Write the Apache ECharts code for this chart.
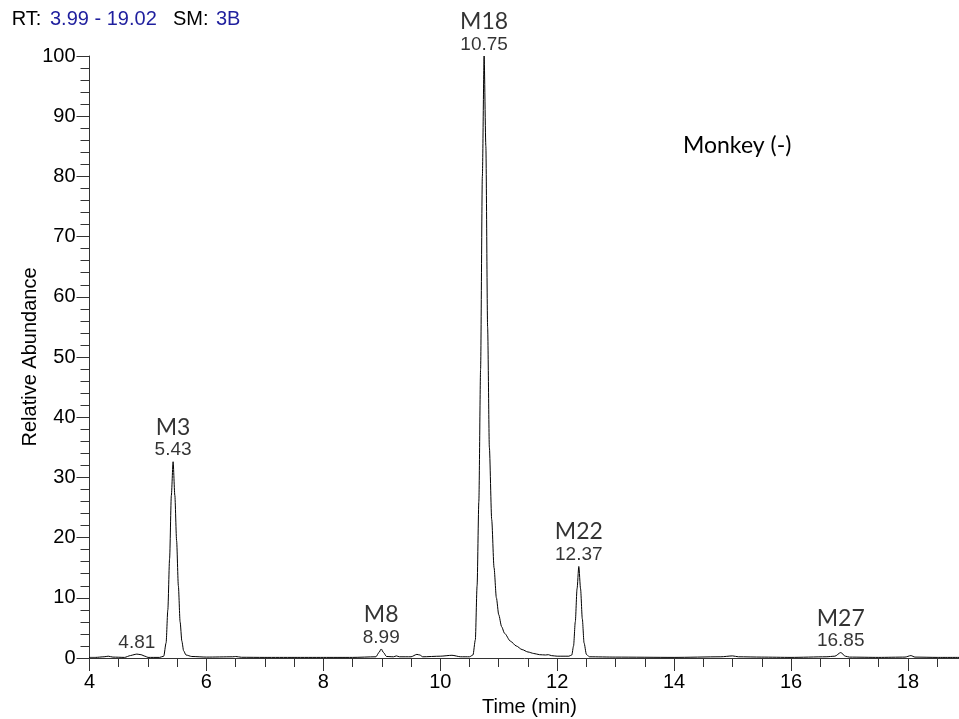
<!DOCTYPE html>
<html>
<head>
<meta charset="utf-8">
<title>Monkey (-) chromatogram</title>
<script src="https://cdn.jsdelivr.net/npm/echarts@6/dist/echarts.min.js"></script>
<style>
  html, body { margin: 0; padding: 0; background: #fff; }
  #chart { width: 959px; height: 719px; }
</style>
</head>
<body>
<div id="chart"></div>
<script>
// Extracted ion chromatogram trace: retention time (min) and relative abundance (%)
var traceTime = [
  3.99, 4.10, 4.25, 4.32, 4.40, 4.60, 4.70, 4.78, 4.81, 4.88, 4.95, 5.00,
  5.20, 5.27, 5.31, 5.34, 5.37, 5.40, 5.43, 5.46, 5.49, 5.52, 5.55, 5.58,
  5.61, 5.65, 5.75, 6.00, 6.45, 6.50, 6.60, 7.00, 7.50, 8.00, 8.50, 8.90,
  8.95, 8.99, 9.03, 9.08, 9.20, 9.25, 9.30, 9.50, 9.60, 9.65, 9.70, 10.00,
  10.20, 10.35, 10.50, 10.56, 10.60, 10.63, 10.66, 10.69, 10.72, 10.75, 10.78, 10.81,
  10.84, 10.88, 10.92, 10.96, 11.00, 11.05, 11.10, 11.20, 11.30, 11.40, 11.50, 11.60,
  11.70, 11.80, 11.85, 11.90, 12.00, 12.10, 12.20, 12.25, 12.28, 12.31, 12.34, 12.37,
  12.40, 12.43, 12.46, 12.50, 12.55, 13.00, 14.00, 14.80, 15.00, 15.10, 15.50, 16.00,
  16.60, 16.75, 16.85, 16.93, 17.00, 17.50, 17.95, 18.05, 18.12, 18.50, 19.02
];
var traceAbund = [
  0.1, 0.1, 0.2, 0.3, 0.15, 0.1, 0.4, 0.6, 0.65, 0.55, 0.3, 0.1,
  0.1, 0.3, 2.5, 8.0, 16.5, 27.0, 32.6, 27.0, 19.5, 12.0, 6.0, 2.8,
  1.2, 0.5, 0.25, 0.15, 0.2, 0.25, 0.12, 0.1, 0.1, 0.1, 0.1, 0.2,
  0.9, 1.5, 0.9, 0.25, 0.2, 0.35, 0.2, 0.2, 0.6, 0.5, 0.2, 0.3,
  0.45, 0.2, 0.2, 0.5, 3.0, 12.0, 26.0, 48.0, 80.0, 100.0, 85.0, 55.0,
  35.0, 23.0, 15.0, 10.0, 7.2, 5.2, 4.1, 2.8, 2.0, 1.4, 1.0, 0.75,
  0.55, 0.5, 0.55, 0.4, 0.3, 0.3, 0.3, 0.5, 2.0, 6.0, 11.5, 15.2,
  11.5, 6.5, 2.5, 0.6, 0.2, 0.15, 0.1, 0.2, 0.35, 0.2, 0.15, 0.1,
  0.2, 0.3, 0.9, 0.3, 0.15, 0.1, 0.15, 0.4, 0.15, 0.1, 0.1
];

// Annotated peaks: apex retention time and metabolite name
var peakTimes = [4.81, 5.43, 8.99, 10.75, 12.37, 16.85];
var peakNames = ['', 'M3', 'M8', 'M18', 'M22', 'M27'];

// Axis tick settings (the time axis runs on past the right edge of the canvas)
var xTicks = { min: 4, max: 20, interval: 2, minorSplit: 4 };
var yTicks = { min: 0, max: 100, interval: 10, minorSplit: 5 };

var tracePoints = traceTime.map(function (t, i) { return [t, traceAbund[i]]; });
var peakPoints = peakTimes.map(function (t, i) {
  var h = traceAbund[traceTime.indexOf(t)];
  return { value: [t, h], name: peakNames[i] };
});

var axisColor = '#333';
var sansFont = 'Liberation Sans, Arial, sans-serif';
var nameFont = 'Lato, sans-serif';
var pxPerMin = 58.46;

var chart = echarts.init(document.getElementById('chart'), null, { renderer: 'canvas' });
chart.setOption({
  animation: false,
  backgroundColor: '#fff',
  grid: {
    left: 89.5,
    top: 56,
    height: 602,
    width: pxPerMin * (xTicks.max - xTicks.min),
    containLabel: false,
    outerBoundsMode: 'none'
  },
  xAxis: {
    type: 'value',
    min: xTicks.min,
    max: xTicks.max,
    interval: xTicks.interval,
    axisLine: { show: true, onZero: false, lineStyle: { color: axisColor, width: 1 } },
    axisTick: { show: true, length: 13, lineStyle: { color: axisColor, width: 1 } },
    minorTick: { show: true, splitNumber: xTicks.minorSplit, length: 9, lineStyle: { color: axisColor, width: 1 } },
    splitLine: { show: false },
    axisLabel: { margin: 14, fontSize: 20, color: '#000', fontFamily: sansFont, hideOverlap: false }
  },
  yAxis: {
    type: 'value',
    min: yTicks.min,
    max: yTicks.max,
    interval: yTicks.interval,
    axisLine: { show: true, lineStyle: { color: axisColor, width: 1 } },
    axisTick: { show: true, length: 13, lineStyle: { color: axisColor, width: 1 } },
    minorTick: { show: true, splitNumber: yTicks.minorSplit, length: 9, lineStyle: { color: axisColor, width: 1 } },
    splitLine: { show: false },
    axisLabel: { margin: 14, fontSize: 20, color: '#000', fontFamily: sansFont }
  },
  series: [
    {
      type: 'line',
      data: tracePoints,
      showSymbol: false,
      smooth: 0.25,
      smoothMonotone: 'x',
      clip: true,
      lineStyle: { color: '#000', width: 1 },
      silent: true
    },
    {
      type: 'scatter',
      data: peakPoints,
      symbolSize: 0,
      silent: true,
      label: {
        show: true,
        position: 'top',
        distance: 1,
        formatter: function (p) {
          var t = p.value[0].toFixed(2);
          return p.name ? '{n|' + p.name + '}\n{t|' + t + '}' : '{t|' + t + '}';
        },
        rich: {
          n: { fontFamily: nameFont, fontSize: 23, lineHeight: 25, color: '#000', align: 'center' },
          t: { fontFamily: sansFont, fontSize: 19, lineHeight: 21, color: '#000', align: 'center' }
        }
      }
    }
  ],
  graphic: [
    { type: 'text', left: 11.7, top: 9, style: { text: 'RT:', font: '20px ' + sansFont, fill: '#000' } },
    { type: 'text', left: 50, top: 9, style: { text: '3.99 - 19.02', font: '20px ' + sansFont, fill: '#1f1f9e' } },
    { type: 'text', left: 173, top: 9, style: { text: 'SM:', font: '20px ' + sansFont, fill: '#000' } },
    { type: 'text', left: 216, top: 9, style: { text: '3B', font: '20px ' + sansFont, fill: '#1f1f9e' } },
    { type: 'text', left: 683, top: 134, style: { text: 'Monkey (-)', font: '23px ' + nameFont, fill: '#000' } },
    { type: 'text', left: 482, top: 697, style: { text: 'Time (min)', font: '20px ' + sansFont, fill: '#000' } },
    {
      type: 'text', x: 30, y: 357, rotation: Math.PI / 2,
      style: { text: 'Relative Abundance', font: '20px ' + sansFont, fill: '#000', align: 'center', verticalAlign: 'middle' }
    }
  ]
});
</script>
</body>
</html>
